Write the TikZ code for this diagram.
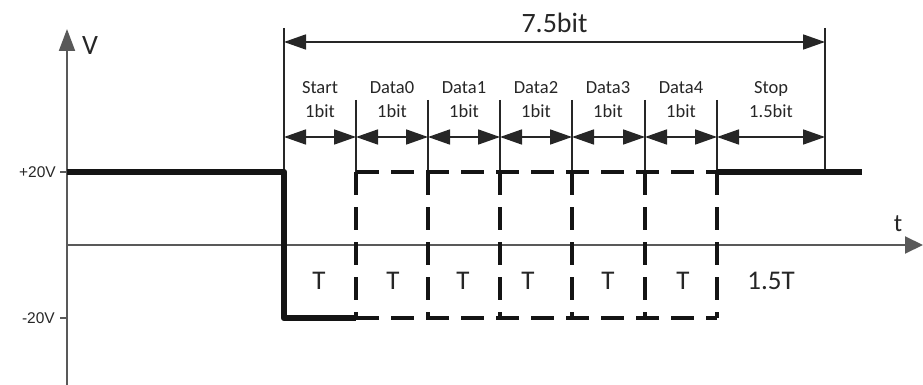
\documentclass[tikz,border=0pt]{standalone}
\usepackage{fontspec}
\setmainfont{Carlito}
\newfontfamily\arialf{Liberation Sans}
\usetikzlibrary{arrows.meta}
\begin{document}
\begin{tikzpicture}[x=1pt,y=-1pt,
  axisline/.style={draw=black!65,line width=2pt},
  bound/.style={draw=black!85,line width=1.7pt},
  dim/.style={draw=black!85,line width=1.7pt,{Triangle[length=22pt,width=15pt]}-{Triangle[length=22pt,width=15pt]}},
  sig/.style={draw=black!92,line width=6.5pt,line join=round},
  dsig/.style={draw=black!92,line width=3.2pt,dash pattern=on 23pt off 12pt},
  lbl/.style={text=black!85,font=\fontsize{18.5}{24}\selectfont,align=center,inner sep=0pt},
  tl/.style={text=black!85,font=\fontsize{27}{27}\selectfont,inner sep=0pt},
  vl/.style={text=black!85,font=\arialf\fontsize{15.5}{15.5}\selectfont,inner sep=0pt,anchor=east},
  tick/.style={draw=black!65,line width=1.5pt}]
\useasboundingbox (0,0) rectangle (923,385);
% axes
\coordinate (Vbot) at (67,385);
\coordinate (Vtop) at (67,29);
\coordinate (O) at (67,245);
\coordinate (tend) at (923,245);
\draw[axisline,-{Triangle[length=22pt,width=16pt]}] (Vbot) -- (Vtop);
\draw[axisline,-{Triangle[length=18pt,width=17pt]}] (O) -- (tend);
\node[tl,font=\fontsize{28}{28}\selectfont] (V) at (90,46) {V};
\node[tl,font=\fontsize{25}{25}\selectfont] (t) at (898,224) {t};
% level ticks
\coordinate (p20a) at (60,172); \coordinate (p20b) at (67,172);
\coordinate (m20a) at (60,318); \coordinate (m20b) at (67,318);
\draw[tick] (p20a) -- (p20b);
\draw[tick] (m20a) -- (m20b);
\node[vl] (p20) at (56,172) {+20V};
\node[vl] (m20) at (55,318) {-20V};
% boundaries
\foreach \i/\x in {0/284,1/356,2/428,3/500,4/572,5/645,6/717,7/825}{
  \coordinate (b\i) at (\x,137);
  \coordinate (h\i) at (\x,172);
  \coordinate (l\i) at (\x,318);
  \coordinate (s\i) at (\x,100);
  \coordinate (u\i) at (\x,28);
  \coordinate (w\i) at (\x,42);
}
\draw[bound] (u0) -- (h0);
\draw[bound] (u7) -- (h7);
\foreach \i in {1,...,6}{ \draw[bound] (s\i) -- (h\i); }
% dimension arrows
\draw[dim] (w0) -- node[tl,font=\fontsize{28}{28}\selectfont,yshift=19pt] (tot) {7.5bit} (w7);
\foreach \i/\j in {0/1,1/2,2/3,3/4,4/5,5/6,6/7}{ \draw[dim] (b\i) -- (b\j); }
\node[lbl] (L0) at (320,100) {Start\\1bit};
\node[lbl] (L1) at (392,100) {Data0\\1bit};
\node[lbl] (L2) at (464,100) {Data1\\1bit};
\node[lbl] (L3) at (536,100) {Data2\\1bit};
\node[lbl] (L4) at (608,100) {Data3\\1bit};
\node[lbl] (L5) at (681,100) {Data4\\1bit};
\node[lbl] (L6) at (771,100) {Stop\\1.5bit};
% signal
\coordinate (hs) at (67,172);
\coordinate (he) at (862,172);
\draw[sig] (hs) -- (h0) -- (l0) -- (l1);
\draw[sig] (h6) -- (he);
\draw[dsig] (h1) -- (h6);
\draw[dsig] (l1) -- (l6);
\foreach \i in {1,...,6}{ \draw[dsig] (h\i) -- (l\i); }
% T labels
\node[tl] (T0) at (319,281) {T};
\node[tl] (T1) at (393,281) {T};
\node[tl] (T2) at (463,281) {T};
\node[tl] (T3) at (528,281) {T};
\node[tl] (T4) at (608,281) {T};
\node[tl] (T5) at (683,281) {T};
\node[tl] (T6) at (771,281) {1.5T};
\end{tikzpicture}
\end{document}
